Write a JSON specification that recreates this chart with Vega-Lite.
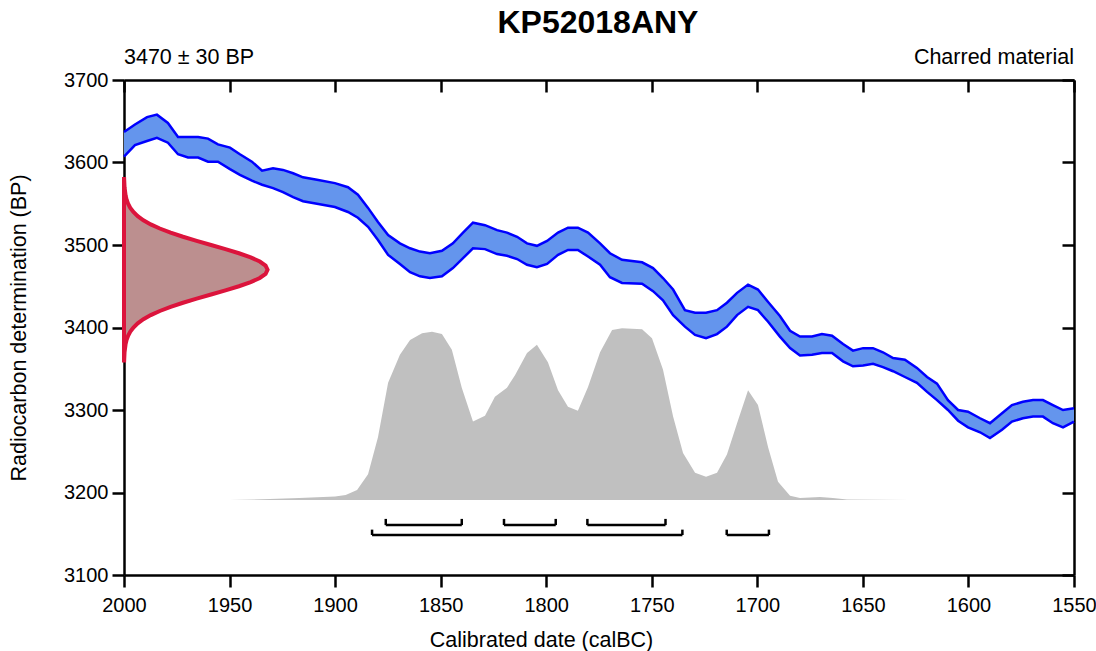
{
  "$schema": "https://vega.github.io/schema/vega-lite/v6.json",
  "width": 950,
  "height": 495,
  "autosize": {"type": "none"},
  "padding": {"left": 124, "top": 80, "right": 22, "bottom": 76},
  "background": "white",
  "config": {
    "font": "Liberation Sans",
    "view": {"stroke": null},
    "axis": {"grid": false, "domainColor": "black", "tickColor": "black", "domainWidth": 2.5, "tickWidth": 2.5, "labelColor": "black", "titleColor": "black", "labelFontSize": 20, "titleFontSize": 21.5, "titleFontWeight": "normal", "labelFont": "Liberation Sans", "titleFont": "Liberation Sans", "labelFlush": false}
  },
  "datasets": {
    "curve": [
      {"d": 2000, "hi": 3637, "lo": 3607}, {"d": 1994.8, "hi": 3646, "lo": 3621}, {"d": 1989.1, "hi": 3655, "lo": 3626},
      {"d": 1984.4, "hi": 3658, "lo": 3630}, {"d": 1979.2, "hi": 3648, "lo": 3624}, {"d": 1974.4, "hi": 3631, "lo": 3610},
      {"d": 1969.7, "hi": 3631, "lo": 3606}, {"d": 1964.9, "hi": 3631, "lo": 3606}, {"d": 1960.2, "hi": 3629, "lo": 3601},
      {"d": 1955.5, "hi": 3622, "lo": 3601}, {"d": 1949.8, "hi": 3618, "lo": 3592}, {"d": 1945.1, "hi": 3610, "lo": 3585},
      {"d": 1939.4, "hi": 3601, "lo": 3578}, {"d": 1934.6, "hi": 3590, "lo": 3573}, {"d": 1929.4, "hi": 3593, "lo": 3569},
      {"d": 1924.7, "hi": 3591, "lo": 3564}, {"d": 1919.9, "hi": 3587, "lo": 3558}, {"d": 1915.2, "hi": 3582, "lo": 3553},
      {"d": 1908.6, "hi": 3579, "lo": 3550}, {"d": 1900.1, "hi": 3575, "lo": 3546}, {"d": 1893.9, "hi": 3570, "lo": 3540},
      {"d": 1889.2, "hi": 3561, "lo": 3533}, {"d": 1884.4, "hi": 3545, "lo": 3522}, {"d": 1879.7, "hi": 3528, "lo": 3506},
      {"d": 1874.9, "hi": 3512, "lo": 3488}, {"d": 1869.3, "hi": 3502, "lo": 3477}, {"d": 1864.5, "hi": 3496, "lo": 3467},
      {"d": 1859.8, "hi": 3492, "lo": 3462}, {"d": 1855.1, "hi": 3490, "lo": 3460}, {"d": 1849.4, "hi": 3493, "lo": 3462},
      {"d": 1844.2, "hi": 3502, "lo": 3472}, {"d": 1839.4, "hi": 3515, "lo": 3484}, {"d": 1834.7, "hi": 3527, "lo": 3496},
      {"d": 1829.0, "hi": 3524, "lo": 3495}, {"d": 1823.3, "hi": 3518, "lo": 3489}, {"d": 1818.6, "hi": 3515, "lo": 3487},
      {"d": 1813.8, "hi": 3510, "lo": 3483}, {"d": 1809.1, "hi": 3502, "lo": 3476}, {"d": 1804.4, "hi": 3499, "lo": 3473},
      {"d": 1799.6, "hi": 3505, "lo": 3477}, {"d": 1794.4, "hi": 3515, "lo": 3488}, {"d": 1789.7, "hi": 3521, "lo": 3494},
      {"d": 1785.0, "hi": 3521, "lo": 3494}, {"d": 1780.2, "hi": 3515, "lo": 3486}, {"d": 1774.5, "hi": 3502, "lo": 3476},
      {"d": 1769.8, "hi": 3490, "lo": 3461}, {"d": 1764.1, "hi": 3482, "lo": 3454}, {"d": 1754.6, "hi": 3479, "lo": 3453},
      {"d": 1749.4, "hi": 3472, "lo": 3444}, {"d": 1744.7, "hi": 3460, "lo": 3433}, {"d": 1739.9, "hi": 3446, "lo": 3415},
      {"d": 1734.3, "hi": 3421, "lo": 3401}, {"d": 1729.5, "hi": 3418, "lo": 3391}, {"d": 1724.3, "hi": 3418, "lo": 3387},
      {"d": 1719.1, "hi": 3421, "lo": 3392}, {"d": 1714.4, "hi": 3430, "lo": 3401}, {"d": 1709.6, "hi": 3442, "lo": 3415},
      {"d": 1704.4, "hi": 3452, "lo": 3425}, {"d": 1699.7, "hi": 3446, "lo": 3421}, {"d": 1694.9, "hi": 3431, "lo": 3407},
      {"d": 1689.3, "hi": 3414, "lo": 3389}, {"d": 1684.5, "hi": 3396, "lo": 3375}, {"d": 1679.8, "hi": 3389, "lo": 3366},
      {"d": 1674.1, "hi": 3389, "lo": 3367}, {"d": 1669.4, "hi": 3392, "lo": 3369}, {"d": 1664.6, "hi": 3390, "lo": 3369},
      {"d": 1659.4, "hi": 3380, "lo": 3359}, {"d": 1654.7, "hi": 3372, "lo": 3353}, {"d": 1649.9, "hi": 3375, "lo": 3354},
      {"d": 1645.2, "hi": 3375, "lo": 3356}, {"d": 1640.5, "hi": 3370, "lo": 3352}, {"d": 1635.7, "hi": 3363, "lo": 3347},
      {"d": 1630.1, "hi": 3361, "lo": 3340}, {"d": 1624.4, "hi": 3351, "lo": 3333}, {"d": 1619.6, "hi": 3340, "lo": 3322},
      {"d": 1614.9, "hi": 3332, "lo": 3312}, {"d": 1609.7, "hi": 3312, "lo": 3300}, {"d": 1604.9, "hi": 3300, "lo": 3287},
      {"d": 1600.2, "hi": 3298, "lo": 3279}, {"d": 1594.5, "hi": 3290, "lo": 3273}, {"d": 1589.8, "hi": 3284, "lo": 3266},
      {"d": 1584.1, "hi": 3296, "lo": 3276}, {"d": 1579.4, "hi": 3306, "lo": 3286}, {"d": 1574.2, "hi": 3310, "lo": 3290},
      {"d": 1569.4, "hi": 3312, "lo": 3292}, {"d": 1564.7, "hi": 3312, "lo": 3292}, {"d": 1560.0, "hi": 3306, "lo": 3284},
      {"d": 1555.2, "hi": 3300, "lo": 3279}, {"d": 1550.0, "hi": 3302, "lo": 3286}
    ],
    "prob": [
      {"bp": 3360, "d": 1999.92}, {"bp": 3370, "d": 1999.74}, {"bp": 3380, "d": 1999.24}, {"bp": 3385, "d": 1998.77},
      {"bp": 3390, "d": 1998.06}, {"bp": 3395, "d": 1997.01}, {"bp": 3400, "d": 1995.53}, {"bp": 3405, "d": 1993.5},
      {"bp": 3410, "d": 1990.8}, {"bp": 3415, "d": 1987.33}, {"bp": 3420, "d": 1983.04}, {"bp": 3425, "d": 1977.92},
      {"bp": 3430, "d": 1972.05}, {"bp": 3435, "d": 1965.57}, {"bp": 3440, "d": 1958.76}, {"bp": 3445, "d": 1951.95},
      {"bp": 3450, "d": 1945.55}, {"bp": 3455, "d": 1939.99}, {"bp": 3460, "d": 1935.67}, {"bp": 3465, "d": 1932.94},
      {"bp": 3470, "d": 1932.0},
      {"bp": 3475, "d": 1932.94}, {"bp": 3480, "d": 1935.67}, {"bp": 3485, "d": 1939.99}, {"bp": 3490, "d": 1945.55},
      {"bp": 3495, "d": 1951.95}, {"bp": 3500, "d": 1958.76}, {"bp": 3505, "d": 1965.57}, {"bp": 3510, "d": 1972.05},
      {"bp": 3515, "d": 1977.92}, {"bp": 3520, "d": 1983.04}, {"bp": 3525, "d": 1987.33}, {"bp": 3530, "d": 1990.8},
      {"bp": 3535, "d": 1993.5}, {"bp": 3540, "d": 1995.53}, {"bp": 3545, "d": 1997.01}, {"bp": 3550, "d": 1998.06},
      {"bp": 3555, "d": 1998.77}, {"bp": 3560, "d": 1999.24}, {"bp": 3570, "d": 1999.74}, {"bp": 3580, "d": 1999.92}
    ],
    "post": [
      {"d": 1950, "p": 3191}, {"d": 1931, "p": 3192}, {"d": 1917, "p": 3193.3}, {"d": 1900, "p": 3195.2},
      {"d": 1895, "p": 3197}, {"d": 1889.6, "p": 3203}, {"d": 1884.4, "p": 3222}, {"d": 1879.7, "p": 3267},
      {"d": 1874.9, "p": 3333}, {"d": 1869.3, "p": 3367}, {"d": 1864.5, "p": 3385}, {"d": 1858.8, "p": 3393},
      {"d": 1854.1, "p": 3395}, {"d": 1849.4, "p": 3392}, {"d": 1844.7, "p": 3373}, {"d": 1840.0, "p": 3327},
      {"d": 1834.7, "p": 3286}, {"d": 1829.0, "p": 3293}, {"d": 1824.3, "p": 3316}, {"d": 1818.6, "p": 3327},
      {"d": 1814.8, "p": 3342}, {"d": 1809.1, "p": 3369}, {"d": 1804.4, "p": 3379}, {"d": 1799.2, "p": 3358},
      {"d": 1794.4, "p": 3324}, {"d": 1789.7, "p": 3304}, {"d": 1785.0, "p": 3299}, {"d": 1780.2, "p": 3328},
      {"d": 1774.5, "p": 3370}, {"d": 1768.8, "p": 3397}, {"d": 1764.1, "p": 3399}, {"d": 1754.6, "p": 3398},
      {"d": 1749.9, "p": 3387}, {"d": 1744.7, "p": 3349}, {"d": 1739.9, "p": 3292}, {"d": 1735.2, "p": 3248},
      {"d": 1729.5, "p": 3224}, {"d": 1724.3, "p": 3219}, {"d": 1719.1, "p": 3224}, {"d": 1714.4, "p": 3246},
      {"d": 1709.6, "p": 3284}, {"d": 1704.4, "p": 3324}, {"d": 1699.7, "p": 3306}, {"d": 1694.9, "p": 3255},
      {"d": 1690.2, "p": 3213}, {"d": 1684.5, "p": 3196}, {"d": 1679.8, "p": 3193.3}, {"d": 1670.3, "p": 3194.5},
      {"d": 1664.2, "p": 3193.3}, {"d": 1657.5, "p": 3191.5}, {"d": 1628, "p": 3191}
    ],
    "ranges": [
      {"level": "68.2%", "from": 1876, "to": 1840, "bar": 3160.5, "top": 3168},
      {"level": "68.2%", "from": 1820, "to": 1795.5, "bar": 3160.5, "top": 3168},
      {"level": "68.2%", "from": 1780.5, "to": 1743.5, "bar": 3160.5, "top": 3168},
      {"level": "95.4%", "from": 1882.5, "to": 1735.5, "bar": 3148.5, "top": 3155},
      {"level": "95.4%", "from": 1714.5, "to": 1694.5, "bar": 3148.5, "top": 3155}
    ]
  },
  "resolve": {"axis": {"x": "independent", "y": "independent"}},
  "layer": [
    {
      "data": {"name": "curve"},
      "mark": {"type": "area", "color": "#6495ED", "opacity": 1},
      "encoding": {
        "x": {"field": "d", "type": "quantitative", "scale": {"domain": [1550, 2000], "reverse": true, "nice": false, "zero": false},
              "axis": {"orient": "bottom", "values": [2000, 1950, 1900, 1850, 1800, 1750, 1700, 1650, 1600, 1550], "tickSize": 12, "labelPadding": 8, "title": "Calibrated date (calBC)", "titlePadding": 14, "titleX": 417, "format": "d"}},
        "y": {"field": "hi", "type": "quantitative", "scale": {"domain": [3100, 3700], "nice": false, "zero": false},
              "axis": {"orient": "left", "values": [3100, 3200, 3300, 3400, 3500, 3600, 3700], "tickSize": 12, "labelPadding": 4, "title": "Radiocarbon determination (BP)", "titlePadding": 33, "format": "d"}},
        "y2": {"field": "lo"}
      }
    },
    {
      "data": {"name": "curve"},
      "mark": {"type": "line", "color": "#0000FF", "strokeWidth": 2.5},
      "encoding": {
        "x": {"field": "d", "type": "quantitative",
              "axis": {"orient": "top", "values": [2000, 1950, 1900, 1850, 1800, 1750, 1700, 1650, 1600, 1550], "tickSize": -12, "labels": false, "title": null}},
        "y": {"field": "hi", "type": "quantitative",
              "axis": {"orient": "right", "values": [3100, 3200, 3300, 3400, 3500, 3600, 3700], "tickSize": -12, "labels": false, "title": null}}
      }
    },
    {
      "data": {"name": "curve"},
      "mark": {"type": "line", "color": "#0000FF", "strokeWidth": 2.5},
      "encoding": {
        "x": {"field": "d", "type": "quantitative", "axis": null},
        "y": {"field": "lo", "type": "quantitative", "axis": null}
      }
    },
    {
      "data": {"name": "prob"},
      "mark": {"type": "area", "orient": "horizontal", "fill": "#BC8F8F", "fillOpacity": 1, "stroke": "#DC143C", "strokeWidth": 4},
      "encoding": {
        "y": {"field": "bp", "type": "quantitative", "axis": null},
        "x": {"field": "d", "type": "quantitative", "axis": null},
        "x2": {"datum": 2000}
      }
    },
    {
      "data": {"name": "post"},
      "mark": {"type": "area", "color": "#C0C0C0", "opacity": 1},
      "encoding": {
        "x": {"field": "d", "type": "quantitative", "axis": null},
        "y": {"field": "p", "type": "quantitative", "axis": null},
        "y2": {"datum": 3191}
      }
    },
    {
      "data": {"name": "ranges"},
      "mark": {"type": "rule", "color": "black", "strokeWidth": 2.5},
      "encoding": {
        "x": {"field": "from", "type": "quantitative", "axis": null},
        "x2": {"field": "to"},
        "y": {"field": "bar", "type": "quantitative", "axis": null}
      }
    },
    {
      "data": {"name": "ranges"},
      "transform": [{"fold": ["from", "to"], "as": ["end", "date"]}],
      "mark": {"type": "rule", "color": "black", "strokeWidth": 2.5},
      "encoding": {
        "x": {"field": "date", "type": "quantitative", "axis": null},
        "y": {"field": "bar", "type": "quantitative", "axis": null},
        "y2": {"field": "top"}
      }
    },
    {
      "data": {"values": [{"label": "KP52018ANY"}]},
      "mark": {"type": "text", "align": "center", "baseline": "alphabetic", "dy": -47, "fontSize": 32, "fontWeight": "bold", "color": "black"},
      "encoding": {
        "x": {"datum": 1775.5, "type": "quantitative", "axis": null},
        "y": {"datum": 3700, "type": "quantitative", "axis": null},
        "text": {"field": "label"}
      }
    },
    {
      "data": {"values": [{"label": "3470 ± 30 BP"}]},
      "mark": {"type": "text", "align": "left", "baseline": "alphabetic", "dy": -16, "fontSize": 21.5, "color": "black"},
      "encoding": {
        "x": {"datum": 2000, "type": "quantitative", "axis": null},
        "y": {"datum": 3700, "type": "quantitative", "axis": null},
        "text": {"field": "label"}
      }
    },
    {
      "data": {"values": [{"label": "Charred material"}]},
      "mark": {"type": "text", "align": "right", "baseline": "alphabetic", "dy": -16, "fontSize": 21.5, "color": "black"},
      "encoding": {
        "x": {"datum": 1550, "type": "quantitative", "axis": null},
        "y": {"datum": 3700, "type": "quantitative", "axis": null},
        "text": {"field": "label"}
      }
    }
  ]
}
